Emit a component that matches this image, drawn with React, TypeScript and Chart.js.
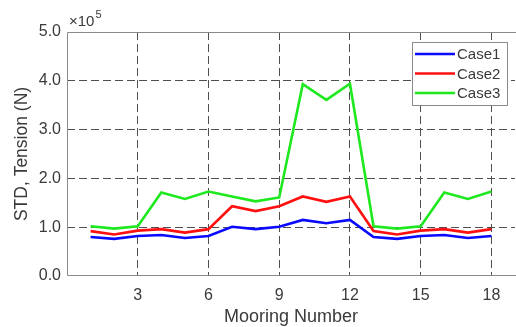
import React, { useEffect, useRef } from "react";
import { Chart, registerables } from "chart.js";

Chart.register(...registerables);

const moorings = [1, 2, 3, 4, 5, 6, 7, 8, 9, 10, 11, 12, 13, 14, 15, 16, 17, 18];
const case1 = [0.80, 0.76, 0.82, 0.84, 0.78, 0.82, 1.01, 0.96, 1.01, 1.15, 1.08, 1.15, 0.80, 0.76, 0.82, 0.84, 0.78, 0.82];
const case2 = [0.92, 0.85, 0.93, 0.96, 0.89, 0.96, 1.43, 1.33, 1.43, 1.63, 1.52, 1.63, 0.92, 0.85, 0.93, 0.96, 0.89, 0.96];
const case3 = [1.02, 0.97, 1.02, 1.71, 1.58, 1.73, 1.63, 1.53, 1.61, 3.93, 3.61, 3.94, 1.02, 0.97, 1.02, 1.71, 1.58, 1.73];
const xTicks = [3, 6, 9, 12, 15, 18];
const seriesNames = ["Case1", "Case2", "Case3"];
const seriesColors = ["#0a0aff", "#ff1010", "#1ee81e"];

const FONT = "'Liberation Sans', Arial, sans-serif";
const TEXT = "#3a3a3a";

const decorPlugin = {
  id: "decor",
  afterDatasetsDraw(chart: any) {
    const { ctx, chartArea } = chart;
    const { left, right, top, bottom } = chartArea;
    ctx.save();
    // axes box (right side falls outside the picture)
    ctx.strokeStyle = "#8a8a8a";
    ctx.lineWidth = 1;
    ctx.setLineDash([]);
    ctx.beginPath();
    ctx.moveTo(right + 2, top + 0.5);
    ctx.lineTo(left + 0.5, top + 0.5);
    ctx.lineTo(left + 0.5, bottom - 0.5);
    ctx.lineTo(right + 2, bottom - 0.5);
    ctx.stroke();
    ctx.restore();
  },
  afterDraw(chart: any) {
    const { ctx, chartArea } = chart;
    const { left, right, top, bottom } = chartArea;
    ctx.save();
    ctx.fillStyle = TEXT;
    // exponent label
    ctx.font = `15px ${FONT}`;
    ctx.textAlign = "left";
    ctx.textBaseline = "alphabetic";
    ctx.fillText("\u00d710", left + 2, top - 6);
    const w = ctx.measureText("\u00d710").width;
    ctx.font = `11px ${FONT}`;
    ctx.fillText("5", left + 2 + w + 1, top - 14);
    // x title
    ctx.font = `18px ${FONT}`;
    ctx.textAlign = "center";
    ctx.textBaseline = "middle";
    ctx.fillText("Mooring Number", (left + right) / 2, 317);
    // y title
    ctx.save();
    ctx.translate(22, (top + bottom) / 2);
    ctx.rotate(-Math.PI / 2);
    ctx.font = `17.5px ${FONT}`;
    ctx.fillText("STD, Tension (N)", 0, 0);
    ctx.restore();
    // legend
    const bx = 412, by = 42, bw = 95, bh = 63;
    ctx.fillStyle = "#ffffff";
    ctx.fillRect(bx, by, bw, bh);
    ctx.strokeStyle = "#8a8a8a";
    ctx.lineWidth = 1;
    ctx.strokeRect(bx + 0.5, by + 0.5, bw, bh);
    ctx.font = `15px ${FONT}`;
    ctx.textAlign = "left";
    ctx.textBaseline = "middle";
    seriesNames.forEach((name, i) => {
      const yy = 54 + i * 19.5;
      ctx.strokeStyle = seriesColors[i];
      ctx.lineWidth = 2.5;
      ctx.beginPath();
      ctx.moveTo(415, yy);
      ctx.lineTo(455, yy);
      ctx.stroke();
      ctx.fillStyle = TEXT;
      ctx.fillText(name, 457, yy + 1);
    });
    ctx.restore();
  },
};

export default function App() {
  const ref = useRef<HTMLCanvasElement>(null);
  useEffect(() => {
    if (!ref.current) return;
    const datasets = [case1, case2, case3].map((vals, i) => ({
      label: seriesNames[i],
      data: vals.map((v, j) => ({ x: moorings[j], y: v })),
      borderColor: seriesColors[i],
      backgroundColor: seriesColors[i],
      borderWidth: 2.6,
      pointRadius: 0,
      tension: 0,
    }));
    const gridColor = (c: any) => {
      const v = c.tick ? c.tick.value : null;
      return v === 0 || v === 5 ? "rgba(0,0,0,0)" : "#4f4f4f";
    };
    const chart = new Chart(ref.current, {
      type: "line",
      data: { datasets },
      options: {
        animation: false,
        responsive: false,
        maintainAspectRatio: false,
        layout: { padding: { top: 32, right: 1, left: 0, bottom: 0 } },
        plugins: { legend: { display: false }, tooltip: { enabled: false } },
        scales: {
          x: {
            type: "linear",
            min: 0,
            max: 19,
            afterBuildTicks: (s: any) => {
              s.ticks = xTicks.map((v) => ({ value: v }));
            },
            afterFit: (s: any) => {
              s.height = 51;
            },
            grid: { color: "#4f4f4f", lineWidth: 1, drawTicks: false },
            border: { display: false, dash: [8, 4] },
            ticks: {
              padding: 10,
              color: TEXT,
              font: { family: FONT, size: 16 },
              maxRotation: 0,
              autoSkip: false,
            },
          },
          y: {
            type: "linear",
            min: 0,
            max: 5,
            afterFit: (s: any) => {
              s.width = 67;
            },
            grid: { color: gridColor, lineWidth: 1, drawTicks: false },
            border: { display: false, dash: [8, 4] },
            ticks: {
              stepSize: 1,
              padding: 6,
              color: TEXT,
              font: { family: FONT, size: 16 },
              callback: (v: any) => Number(v).toFixed(1),
            },
          },
        },
      },
      plugins: [decorPlugin],
    });
    return () => chart.destroy();
  }, []);
  return (
    <div style={{ position: "fixed", left: 0, top: 0, width: 516, height: 327, background: "#fff" }}>
      <canvas ref={ref} width={516} height={327} style={{ width: 516, height: 327, display: "block" }} />
    </div>
  );
}
